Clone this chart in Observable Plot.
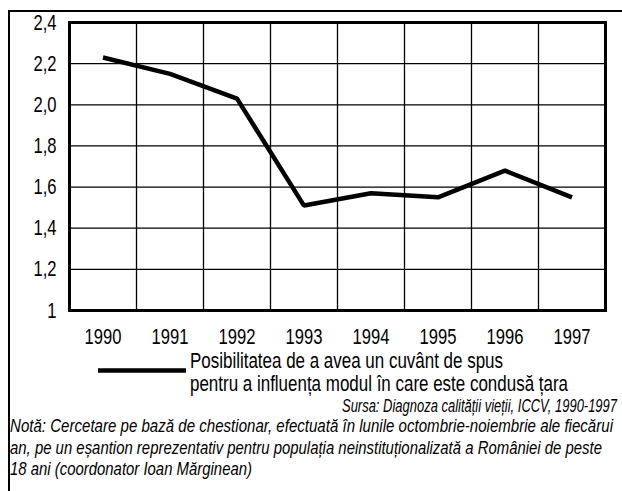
<!DOCTYPE html>
<html><head><meta charset="utf-8">
<script src="https://cdn.jsdelivr.net/npm/d3@7"></script>
<script src="https://cdn.jsdelivr.net/npm/@observablehq/plot@0.6"></script>
<style>
html,body{margin:0;padding:0;background:#fff;}
#wrap{position:relative;width:622px;height:491px;overflow:hidden;font-family:"Liberation Sans",Arial,sans-serif;background:#fff;}
#chart{position:absolute;left:0;top:0;}
#frame{position:absolute;left:8px;top:10px;width:640px;height:500px;border-left:2px solid #000;border-top:2px solid #000;}
#cap{position:absolute;left:0;top:0;}
</style></head><body>
<div id="wrap"><div id="chart"></div><div id="frame"></div><svg id="cap" width="622" height="491"></svg></div>
<script>
const years = [1990, 1991, 1992, 1993, 1994, 1995, 1996, 1997];
const values = [2.23, 2.15, 2.03, 1.51, 1.57, 1.55, 1.68, 1.55];
const yTicks = [1, 1.2, 1.4, 1.6, 1.8, 2.0, 2.2, 2.4];
const seriesLabel = ["Posibilitatea de a avea un cuvânt de spus", "pentru a influența modul în care este condusă țara"];
const sourceText = "Sursa: Diagnoza calității vieții, ICCV, 1990-1997";
const noteLines = [
  "Notă: Cercetare pe bază de chestionar, efectuată în lunile octombrie-noiembrie ale fiecărui",
  "an, pe un eșantion reprezentativ pentru populația neinstituționalizată a României de peste",
  "18 ani (coordonator Ioan Mărginean)"
];

const data = years.map((y, i) => ({year: y, value: values[i]}));
const fmtY = d => d === 1 ? "1" : d.toFixed(1).replace(".", ",");

const plot = Plot.plot({
  width: 622,
  height: 350,
  marginLeft: 69,
  marginRight: 17,
  marginTop: 22,
  marginBottom: 40,
  style: {background: "transparent", fontFamily: "'Liberation Sans', Arial, sans-serif", color: "#000"},
  x: {domain: [years[0] - 0.5, years[years.length - 1] + 0.5]},
  y: {domain: [yTicks[0], yTicks[yTicks.length - 1]]},
  marks: [
    Plot.ruleY(yTicks.slice(1, -1), {stroke: "#000", strokeWidth: 1.3}),
    Plot.ruleX(years.slice(0, -1), {x: d => d + 0.5, stroke: "#000", strokeWidth: 1.3}),
    Plot.frame({stroke: "#000", strokeWidth: 3}),
    Plot.axisY(yTicks, {tickSize: 0, tickPadding: 13, tickFormat: fmtY, fontSize: 16.6, label: null}),
    Plot.axisX(years, {tickSize: 0, tickPadding: 18, tickFormat: d => String(d), fontSize: 16.6, label: null}),
    Plot.line(data, {x: "year", y: "value", stroke: "#000", strokeWidth: 4.5, strokeLinecap: "butt", strokeLinejoin: "miter"})
  ]
});
document.getElementById("chart").appendChild(plot);

// stretch tick labels vertically to mimic the condensed font of the original
d3.select(plot).selectAll("g[aria-label$='tick label'] text").each(function() {
  const t = this.getAttribute("transform") || "";
  this.setAttribute("transform", t + " scale(1,1.34)");
});

// legend + captions
const cap = d3.select("#cap");
cap.append("line").attr("x1", 98).attr("x2", 186).attr("y1", 370.5).attr("y2", 370.5)
  .attr("stroke", "#000").attr("stroke-width", 4.5);
function addText(str, x, y, width, size, sy, italic, anchor) {
  cap.append("text")
    .attr("transform", `translate(${x},${y}) scale(1,${sy})`)
    .attr("text-anchor", anchor || "start")
    .attr("font-size", size)
    .attr("font-style", italic ? "italic" : "normal")
    .attr("font-family", "'Liberation Sans', Arial, sans-serif")
    .attr("textLength", width)
    .attr("lengthAdjust", "spacingAndGlyphs")
    .text(str);
}
addText(seriesLabel[0], 190, 368, 313, 16.6, 1.34, false);
addText(seriesLabel[1], 190, 391, 378, 16.6, 1.34, false);
addText(sourceText, 617, 412, 275, 14.5, 1.32, true, "end");
addText(noteLines[0], 10, 432, 603, 14.5, 1.32, true);
addText(noteLines[1], 10, 454, 592, 14.5, 1.32, true);
addText(noteLines[2], 10, 475, 242, 14.5, 1.32, true);
</script>
</body></html>
